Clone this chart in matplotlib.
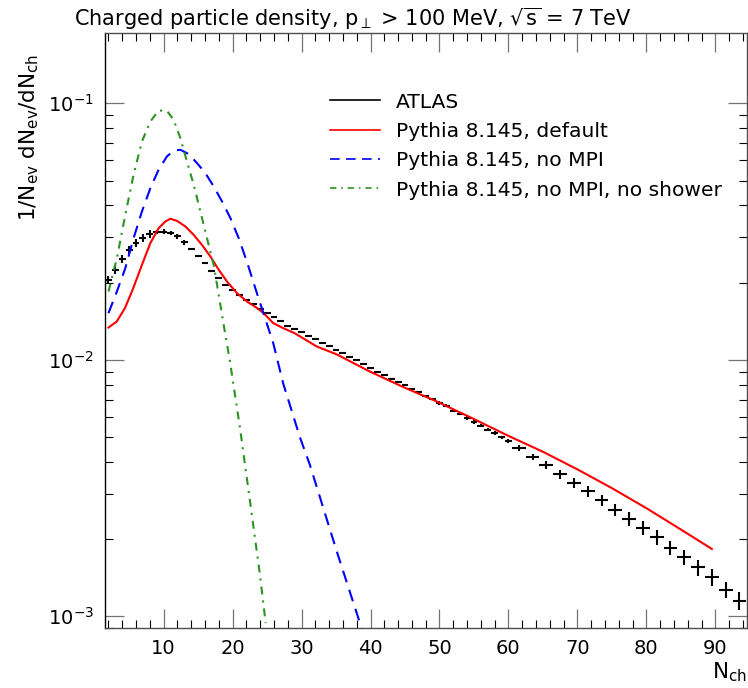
"""Charged particle multiplicity, ATLAS 7 TeV vs Pythia 8.145 variants.

Rivet/make-plots look: inward ticks on all four sides, log y axis,
ATLAS points drawn as plain error crosses, MC as lines.
"""

import matplotlib

matplotlib.use("Agg")
import matplotlib.pyplot as plt
from matplotlib.lines import Line2D
from matplotlib.ticker import LogLocator, MultipleLocator, NullFormatter

# ATLAS data: unit bins up to 60, two-unit bins above.
atlas_x = list(range(2, 61)) + [61.5 + 2 * i for i in range(17)]
atlas_y = [
    0.0205, 0.0224, 0.0248, 0.0268, 0.0285, 0.0298, 0.0310, 0.0315, 0.0316, 0.0312,
    0.0303, 0.0287, 0.0270, 0.0253, 0.0238, 0.0222, 0.0209, 0.0196, 0.0187, 0.0179,
    0.0171, 0.0165, 0.0158, 0.0152, 0.0147, 0.0142, 0.0136, 0.0132, 0.0128, 0.0124,
    0.0120, 0.0116, 0.0113, 0.0109, 0.0106, 0.0103, 0.00994, 0.00965, 0.00929, 0.00900,
    0.00871, 0.00845, 0.00820, 0.00796, 0.00768, 0.00746, 0.00722, 0.00701, 0.00678, 0.00662,
    0.00634, 0.00616, 0.00593, 0.00572, 0.00554, 0.00534, 0.00518, 0.00498, 0.00483,
    0.00453, 0.00418, 0.00388, 0.00358, 0.00330, 0.00307, 0.00283, 0.00260, 0.00240,
    0.00221, 0.00203, 0.00185, 0.00170, 0.00155, 0.00142, 0.00127, 0.00115,
]
# relative errors (fraction of value)
atlas_rel_err = (
    [0.036] * 7 + [0.02] * 5 + [0.006] * 36 + [0.015] * 11
    + [0.025, 0.03, 0.035, 0.04, 0.045, 0.05, 0.05, 0.055, 0.06, 0.06, 0.065,
       0.065, 0.07, 0.07, 0.075, 0.075, 0.08]
)
atlas_xerr = [0.5] * 59 + [1.0] * 17

default_x = [2.0, 3.2, 4.4, 5.6, 6.85, 8.07, 9.27, 10.24, 10.97, 11.93, 13.15, 14.36,
             15.56, 16.78, 17.99, 19.19, 20.64, 22.1, 23.55, 24.5, 25.9, 27.3, 29.0,
             32.2, 35.1, 39.9, 44.75, 49.6, 54.4, 60.0, 65.0, 70.0, 75.0, 80.0, 85.0,
             89.5]
default_y = [0.01336, 0.0141, 0.01592, 0.01905, 0.02344, 0.02851, 0.03258, 0.03461,
             0.03548, 0.03483, 0.03311, 0.0307, 0.02805, 0.02529, 0.02244, 0.02019,
             0.01819, 0.01687, 0.01592, 0.0152, 0.0139, 0.0133, 0.0127, 0.01127,
             0.0105, 0.0090, 0.00783, 0.00688, 0.00598, 0.00505, 0.00438, 0.00374,
             0.00316, 0.00264, 0.00218, 0.00183]

nompi_x = [2.0, 3.22, 4.44, 5.64, 6.85, 8.07, 9.27, 10.48, 11.45, 12.42, 13.63, 14.84,
           16.05, 17.26, 18.47, 19.69, 20.89, 22.1, 23.3, 24.3, 25.9, 27.33, 29.75,
           31.2, 35.08, 38.7]
nompi_y = [0.0152, 0.01846, 0.02275, 0.02979, 0.03785, 0.04667, 0.05508, 0.06209,
           0.06534, 0.06592, 0.0634, 0.05848, 0.05346, 0.04743, 0.04144, 0.03565,
           0.02979, 0.0240, 0.0190, 0.0157, 0.0116, 0.0081, 0.0050, 0.0039, 0.0018,
           0.0009]

noshower_x = [2.0, 3.22, 4.44, 5.64, 6.85, 8.07, 9.27, 10.48, 11.45, 12.42, 13.38,
              14.36, 15.33, 16.29, 17.26, 17.99, 18.71, 19.58, 21.04, 22.5, 23.94,
              24.8]
noshower_y = [0.01846, 0.02489, 0.03672, 0.05262, 0.07097, 0.08492, 0.09377, 0.09352,
              0.08628, 0.07318, 0.05933, 0.0481, 0.03785, 0.02979, 0.02344, 0.01791,
              0.01367, 0.0100, 0.0055, 0.00284, 0.00147, 0.00094]

legend_labels = [
    "ATLAS",
    "Pythia 8.145, default",
    "Pythia 8.145, no MPI",
    "Pythia 8.145, no MPI, no shower",
]

RED = "#ff0000"
BLUE = "#0000ff"
GREEN = "#2a9420"
FS = 14
LEG_FS = 14.6
LABEL_FS = 15.5

plt.rcParams["font.family"] = "DejaVu Sans"
plt.rcParams["mathtext.default"] = "regular"

fig = plt.figure(figsize=(7.48, 6.88), dpi=100)
ax = fig.add_axes([0.1404, 0.0872, 0.8583, 0.8648])

yerr = [v * e for v, e in zip(atlas_y, atlas_rel_err)]
ax.errorbar(atlas_x, atlas_y, xerr=atlas_xerr, yerr=yerr, fmt="none",
            ecolor="black", elinewidth=1.5, capsize=0, zorder=3)

lw = 1.5
blue_ls = (0, (5.8, 3.8))
green_ls = (0, (3.8, 2.9, 1.0, 2.9))
ax.plot(default_x, default_y, color=RED, lw=lw, zorder=4)
ax.plot(nompi_x, nompi_y, color=BLUE, lw=lw, linestyle=blue_ls, zorder=4)
ax.plot(noshower_x, noshower_y, color=GREEN, lw=lw, linestyle=green_ls, zorder=4)

ax.set_yscale("log")
ax.set_xlim(1.5, 94.6)
ax.set_ylim(9.0e-4, 0.188)

ax.xaxis.set_major_locator(MultipleLocator(10))
ax.xaxis.set_minor_locator(MultipleLocator(2))
ax.yaxis.set_major_locator(LogLocator(base=10))
ax.yaxis.set_minor_locator(LogLocator(base=10, subs=range(2, 10)))
ax.yaxis.set_minor_formatter(NullFormatter())

ax.tick_params(which="both", direction="in", top=True, right=True,
               labelsize=FS)
ax.tick_params(which="major", length=14, width=0.9, color="0.45", pad=8)
ax.tick_params(which="minor", length=6, width=0.8, color="black")
for side in ("left", "bottom", "top", "right"):
    ax.spines[side].set_linewidth(1.0)
    ax.spines[side].set_color("0.3")
ax.spines["left"].set_color("black")

ax.set_xlabel("N$_{ch}$", fontsize=LABEL_FS, loc="right", labelpad=2)
ax.set_ylabel("1/N$_{ev}$ dN$_{ev}$/dN$_{ch}$", fontsize=LABEL_FS, loc="top")
ax.yaxis.set_label_coords(-0.100, 0.965)

fig.text(74 / 748, 1 - 19 / 688,
         r"Charged particle density, p$_{\perp}$ > 100 MeV, $\sqrt{s}$ = 7 TeV",
         fontsize=15, ha="left", va="center")

handles = [
    Line2D([], [], color="black", lw=1.2),
    Line2D([], [], color=RED, lw=1.2),
    Line2D([], [], color=BLUE, lw=1.2, linestyle=blue_ls),
    Line2D([], [], color=GREEN, lw=1.2, linestyle=green_ls),
]
ax.legend(handles, legend_labels, loc="upper left", bbox_to_anchor=(0.35, 0.90),
          frameon=False, fontsize=LEG_FS, handlelength=2.5, handletextpad=0.75,
          labelspacing=0.51, borderaxespad=0, borderpad=0)

fig.savefig("out.png", dpi=100)
